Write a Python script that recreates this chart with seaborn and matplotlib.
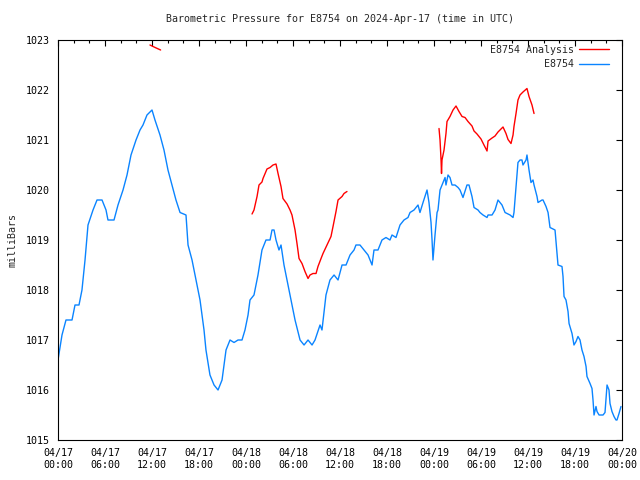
import pandas as pd
import seaborn as sns
import matplotlib.pyplot as plt
import matplotlib.dates as mdates

# hours after 2024-04-17 00:00 UTC, pressure in mbar
obs_hours = [0.0, 0.51, 1.02, 1.79, 2.17, 2.68, 3.06, 3.45, 3.83, 4.47, 4.98, 5.62,
             6.13, 6.38, 7.15, 7.66, 8.30, 8.81, 9.32, 9.96, 10.47, 10.85, 11.36, 12.0,
             12.38, 13.02, 13.53, 14.04, 14.55, 15.06, 15.58, 16.34, 16.60, 17.11, 17.62, 18.13,
             18.64, 18.89, 19.40, 19.92, 20.43, 20.94, 21.45, 21.96, 22.47, 22.98, 23.49, 23.87,
             24.26, 24.51, 25.02, 25.53, 26.04, 26.55, 27.07, 27.32, 27.58, 27.83, 28.21, 28.47,
             28.85, 29.36, 29.87, 30.26, 30.90, 31.41, 31.92, 32.43, 32.81, 33.45, 33.70, 34.21,
             34.72, 35.24, 35.75, 36.26, 36.77, 37.28, 37.79, 38.04, 38.55, 39.07, 39.58, 40.09,
             40.34, 40.85, 41.36, 41.87, 42.38, 42.64, 43.15, 43.66, 44.17, 44.68, 44.94, 45.45,
             45.96, 46.21, 46.60, 47.11, 47.36, 47.62, 47.75, 47.87, 48.13, 48.39, 48.51, 48.77,
             49.02, 49.41, 49.53, 49.79, 50.04, 50.30, 50.68, 51.07, 51.32, 51.70, 52.21, 52.47,
             52.85, 53.11, 53.62, 53.87, 54.26, 54.77, 54.90, 55.41, 55.79, 56.17, 56.68, 57.07,
             57.71, 58.09, 58.21, 58.47, 58.72, 58.98, 59.23, 59.36, 59.75, 59.87, 60.13, 60.38,
             60.64, 60.77, 61.15, 61.28, 61.79, 61.92, 62.30, 62.56, 62.81, 63.19, 63.45, 63.70,
             63.83, 64.34, 64.47, 64.60, 64.85, 65.11, 65.24, 65.62, 65.87, 66.13, 66.38, 66.64,
             66.89, 67.15, 67.41, 67.53, 67.92, 68.17, 68.30, 68.43, 68.68, 68.81, 69.07, 69.58,
             69.83, 70.09, 70.34, 70.47, 70.72, 70.98, 71.23, 71.36, 71.62, 71.87]
obs_mbar = [1016.6, 1017.1, 1017.4, 1017.4, 1017.7, 1017.7, 1018.0, 1018.6, 1019.3, 1019.6, 1019.8, 1019.8,
            1019.6, 1019.4, 1019.4, 1019.7, 1020.0, 1020.3, 1020.7, 1021.0, 1021.2, 1021.3, 1021.5, 1021.6,
            1021.4, 1021.1, 1020.8, 1020.4, 1020.1, 1019.8, 1019.55, 1019.5, 1018.9, 1018.6, 1018.2, 1017.8,
            1017.2, 1016.8, 1016.3, 1016.1, 1016.0, 1016.2, 1016.8, 1017.0, 1016.95, 1017.0, 1017.0, 1017.2,
            1017.5, 1017.8, 1017.9, 1018.3, 1018.8, 1019.0, 1019.0, 1019.2, 1019.2, 1019.0, 1018.8, 1018.9,
            1018.5, 1018.1, 1017.7, 1017.4, 1017.0, 1016.9, 1017.0, 1016.9, 1017.0, 1017.3, 1017.2, 1017.9,
            1018.2, 1018.3, 1018.2, 1018.5, 1018.5, 1018.7, 1018.8, 1018.9, 1018.9, 1018.8, 1018.7, 1018.5,
            1018.8, 1018.8, 1019.0, 1019.05, 1019.0, 1019.1, 1019.05, 1019.3, 1019.4, 1019.45, 1019.55, 1019.6,
            1019.7, 1019.55, 1019.75, 1020.0, 1019.75, 1019.35, 1019.0, 1018.6, 1019.1, 1019.55, 1019.6, 1020.0,
            1020.1, 1020.25, 1020.1, 1020.3, 1020.25, 1020.1, 1020.1, 1020.05, 1020.0, 1019.85, 1020.1, 1020.1,
            1019.87, 1019.65, 1019.6, 1019.55, 1019.5, 1019.45, 1019.5, 1019.5, 1019.6, 1019.8, 1019.7, 1019.55,
            1019.5, 1019.45, 1019.55, 1020.05, 1020.55, 1020.6, 1020.6, 1020.5, 1020.6, 1020.7, 1020.4, 1020.15,
            1020.2, 1020.1, 1019.87, 1019.75, 1019.8, 1019.8, 1019.67, 1019.55, 1019.25, 1019.22, 1019.2, 1018.75,
            1018.5, 1018.47, 1018.27, 1017.87, 1017.8, 1017.57, 1017.33, 1017.13, 1016.9, 1016.97, 1017.07, 1017.0,
            1016.8, 1016.67, 1016.47, 1016.27, 1016.13, 1016.03, 1015.8, 1015.5, 1015.67, 1015.57, 1015.5, 1015.5,
            1015.55, 1016.1, 1016.0, 1015.73, 1015.57, 1015.47, 1015.4, 1015.4, 1015.53, 1015.67]

# analysis runs, three separate pieces
ana_hours = [11.74, 12.4, 13.1,
             24.77, 25.02, 25.41, 25.66, 26.04, 26.17, 26.68, 27.07, 27.45, 27.83, 28.09, 28.47,
             28.72, 29.24, 29.62, 29.87, 30.26, 30.51, 30.77, 31.15, 31.53, 31.92, 32.17, 32.55,
             32.94, 33.19, 33.58, 33.83, 34.34, 34.85, 35.11, 35.49, 35.75, 36.26, 36.51, 36.89,
             48.64, 48.77, 48.90, 48.96, 49.02, 49.28, 49.53, 49.66, 50.04, 50.43, 50.81, 51.19,
             51.58, 51.96, 52.34, 52.85, 53.11, 53.49, 54.0, 54.38, 54.77, 54.90, 55.41, 55.79,
             56.17, 56.81, 57.19, 57.45, 57.83, 58.09, 58.21, 58.47, 58.72, 58.98, 59.36, 59.87,
             60.13, 60.51, 60.77]
ana_mbar = [1022.9, 1022.85, 1022.8,
            1019.52, 1019.6, 1019.87, 1020.1, 1020.16, 1020.23, 1020.42, 1020.45, 1020.5, 1020.52, 1020.33, 1020.07,
            1019.83, 1019.72, 1019.6, 1019.5, 1019.2, 1018.93, 1018.63, 1018.53, 1018.37, 1018.23, 1018.3, 1018.33,
            1018.33, 1018.47, 1018.63, 1018.73, 1018.9, 1019.07, 1019.27, 1019.57, 1019.8, 1019.87, 1019.93, 1019.97,
            1021.23, 1021.0, 1020.6, 1020.33, 1020.6, 1020.8, 1021.13, 1021.37, 1021.47, 1021.6, 1021.68, 1021.57,
            1021.47, 1021.45, 1021.37, 1021.28, 1021.18, 1021.12, 1021.02, 1020.9, 1020.78, 1020.98, 1021.04, 1021.08,
            1021.16, 1021.26, 1021.13, 1021.01, 1020.93, 1021.1, 1021.27, 1021.53, 1021.8, 1021.9, 1021.96, 1022.03,
            1021.87, 1021.7, 1021.53]
ana_run = [1] * 3 + [2] * 36 + [3] * 39

start = pd.Timestamp('2024-04-17 00:00')
obs = pd.DataFrame({'time': start + pd.to_timedelta(obs_hours, unit='h'), 'mbar': obs_mbar})
ana = pd.DataFrame({'time': start + pd.to_timedelta(ana_hours, unit='h'), 'mbar': ana_mbar, 'run': ana_run})

sns.set_style('white')
plt.rcParams['font.family'] = ['DejaVu Sans Mono']
plt.rcParams['font.size'] = 7.2

fig = plt.figure(figsize=(6.4, 4.8), dpi=100)
ax = fig.add_axes([58 / 640, 40 / 480, 564 / 640, 400 / 480])

sns.lineplot(data=ana, x='time', y='mbar', units='run', estimator=None,
             color='#ff0000', lw=1.0, label='E8754 Analysis', ax=ax)
sns.lineplot(data=obs, x='time', y='mbar', color='#0a84ff', lw=1.0, label='E8754', ax=ax)

ax.set_xlim(start, start + pd.Timedelta(hours=72))
ax.set_ylim(1015, 1023)
ax.set_yticks(range(1015, 1024))
ax.xaxis.set_major_locator(mdates.HourLocator(byhour=[0, 6, 12, 18]))
ax.xaxis.set_minor_locator(mdates.HourLocator(interval=2))
ax.xaxis.set_major_formatter(mdates.DateFormatter('%m/%d\n%H:%M'))

ax.tick_params(which='both', direction='in', top=True, right=True, colors='black', labelsize=7.2)
ax.tick_params(which='major', length=4.5, width=0.8)
ax.tick_params(which='minor', length=2.5, width=0.8)
ax.tick_params(axis='x', pad=6)
ax.tick_params(axis='y', pad=6)
for s in ax.spines.values():
    s.set_color('black')
    s.set_linewidth(0.8)

ax.set_xlabel('')
ax.set_ylabel('milliBars', labelpad=6)
ax.set_title('Barometric Pressure for E8754 on 2024-Apr-17 (time in UTC)', fontsize=7.2, pad=13)

# one legend entry per series
handles, labels = ax.get_legend_handles_labels()
seen = {}
for h, l in zip(handles, labels):
    if l not in seen:
        seen[l] = h
leg = ax.legend(list(seen.values()), list(seen.keys()), loc='upper right',
                bbox_to_anchor=(0.984, 0.998), frameon=False,
                markerfirst=False, handlelength=3.0, handletextpad=0.5,
                labelspacing=0.45, borderaxespad=0, fontsize=7.2)

fig.savefig('out.png', dpi=100)
